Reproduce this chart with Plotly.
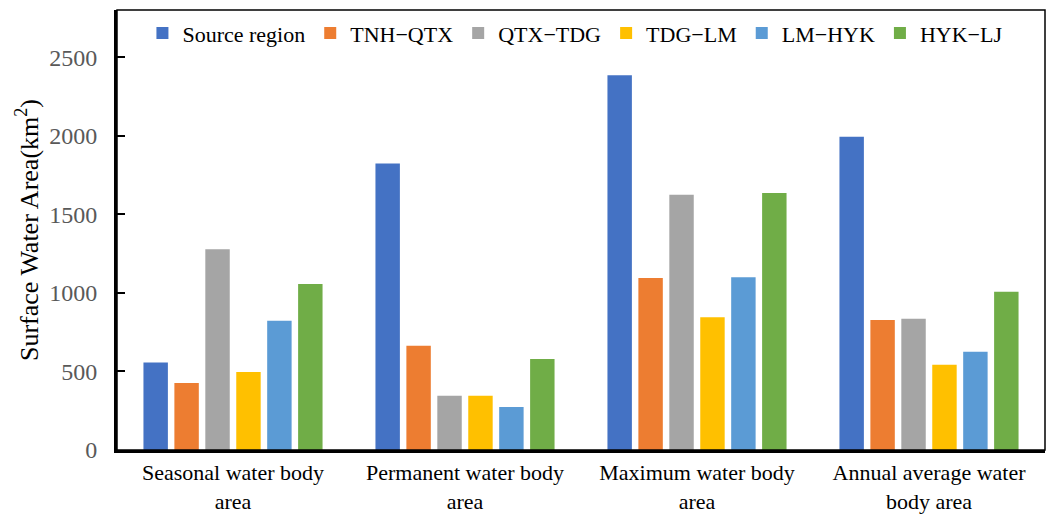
import plotly.graph_objects as go

# Categories along the x axis (two-line labels)
categories = [
    "Seasonal water body<br>area",
    "Permanent water body<br>area",
    "Maximum water body<br>area",
    "Annual average water<br>body area",
]

# Surface water area per river section (km²)
source_region = [557, 1823, 2385, 1994]
tnh_qtx = [426, 664, 1094, 827]
qtx_tdg = [1278, 346, 1624, 835]
tdg_lm = [496, 346, 844, 543]
lm_hyk = [823, 274, 1100, 626]
hyk_lj = [1056, 579, 1636, 1007]

series_names = ["Source region", "TNH−QTX", "QTX−TDG", "TDG−LM", "LM−HYK", "HYK−LJ"]
series_values = [source_region, tnh_qtx, qtx_tdg, tdg_lm, lm_hyk, hyk_lj]
colors = ["#4472C4", "#ED7D31", "#A5A5A5", "#FFC000", "#5B9BD5", "#70AD47"]

y_ticks = [0, 500, 1000, 1500, 2000, 2500]

FONT = "Liberation Serif, Times New Roman, serif"

fig = go.Figure()
for name, vals, col in zip(series_names, series_values, colors):
    fig.add_trace(go.Bar(name=name, x=categories, y=vals, marker_color=col,
                         marker_line_width=0))

fig.update_layout(
    width=1052, height=517,
    margin=dict(l=117, r=7, t=10, b=67, autoexpand=False),
    barmode="group", bargap=0.2, bargroupgap=0.21,
    plot_bgcolor="white", paper_bgcolor="white",
    font=dict(family=FONT, size=23, color="black"),
    legend=dict(orientation="h", x=0.494, xanchor="center", y=0.995, yanchor="top",
                font=dict(family=FONT, size=22, color="black"),
                itemwidth=30, tracegroupgap=0, bgcolor="rgba(0,0,0,0)"),
    showlegend=True,
)

fig.update_xaxes(
    showline=True, linecolor="black", linewidth=3,
    tickfont=dict(family=FONT, size=22, color="black"),
    ticks="", showgrid=False, automargin=False, ticklabelstandoff=1,
)
fig.update_yaxes(
    range=[0, 2800], tickvals=y_ticks,
    showline=True, linecolor="black", linewidth=3,
    ticks="inside", ticklen=8, tickwidth=2, tickcolor="black",
    tickfont=dict(family=FONT, size=24, color="#595959"),
    ticklabelstandoff=12, automargin=False,
    showgrid=False, zeroline=False,
    title=dict(text="Surface Water Area(km<sup>2</sup>)", standoff=4,
               font=dict(family=FONT, size=26, color="black")),
)

# thin frame around the plotting area
fig.add_shape(type="rect", xref="paper", yref="paper", x0=0, y0=0, x1=1, y1=1,
              line=dict(color="black", width=1.5), layer="above")

fig.write_html("out.html")
